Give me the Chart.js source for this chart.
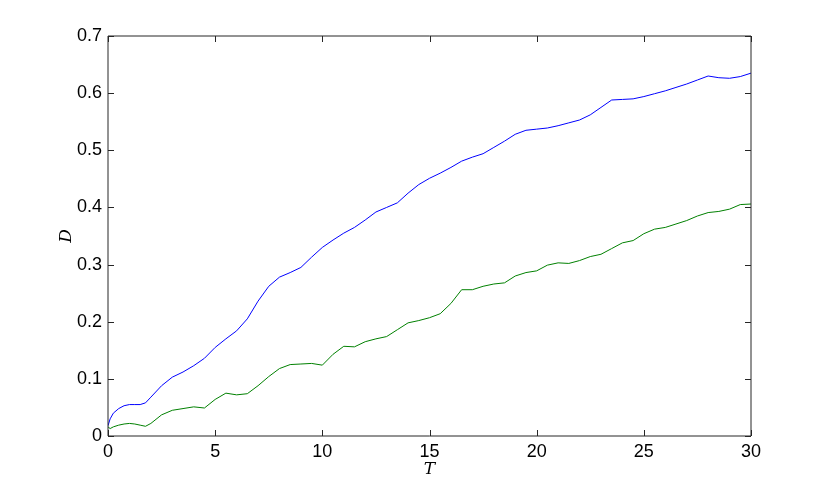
<!DOCTYPE html>
<html>
<head>
<meta charset="utf-8">
<script src="https://cdn.jsdelivr.net/npm/chart.js@4/dist/chart.umd.min.js"></script>
<style>
  html, body { margin: 0; padding: 0; background: #fff; }
  #wrap { width: 830px; height: 490px; }
</style>
</head>
<body>
<div id="wrap"><canvas id="plot"></canvas></div>
<script>
// time samples (T)
var T = [0, 0.1, 0.25, 0.5, 0.75, 1, 1.25, 1.5, 1.75, 2, 2.5, 3, 3.5, 4, 4.5, 5, 5.5, 6, 6.5, 7, 7.5,
    8, 8.5, 9, 9.5, 10, 10.5, 11, 11.5, 12, 12.5, 13, 13.5, 14, 14.5, 15, 15.5, 16, 16.5, 17, 17.5,
    18, 18.5, 19, 19.5, 20, 20.5, 21, 21.5, 22, 22.5, 23, 23.5, 24, 24.5, 25, 25.5, 26, 26.5, 27, 27.5,
    28, 28.5, 29, 29.5, 30];

var blueD = [0.018, 0.030, 0.040, 0.048, 0.053, 0.055, 0.055, 0.055, 0.058, 0.068, 0.088, 0.103, 0.112, 0.123, 0.136, 0.155, 0.170, 0.184, 0.205, 0.236, 0.262,
    0.278, 0.286, 0.295, 0.313, 0.330, 0.343, 0.355, 0.365, 0.378, 0.392, 0.400, 0.408, 0.425, 0.440, 0.451, 0.460, 0.470, 0.481, 0.488, 0.494,
    0.505, 0.516, 0.528, 0.535, 0.537, 0.539, 0.543, 0.548, 0.553, 0.562, 0.575, 0.588, 0.589, 0.590, 0.594, 0.599, 0.604, 0.610, 0.616, 0.623,
    0.630, 0.627, 0.626, 0.629, 0.635];

var greenD = [0.016, 0.013, 0.016, 0.019, 0.021, 0.022, 0.021, 0.019, 0.017, 0.022, 0.037, 0.045, 0.048, 0.051, 0.049, 0.064, 0.075, 0.072, 0.074, 0.088, 0.104,
    0.118, 0.125, 0.126, 0.127, 0.124, 0.143, 0.157, 0.156, 0.165, 0.170, 0.174, 0.186, 0.198, 0.202, 0.207, 0.214, 0.232, 0.256, 0.256, 0.262,
    0.266, 0.268, 0.280, 0.286, 0.289, 0.299, 0.303, 0.302, 0.307, 0.314, 0.318, 0.328, 0.338, 0.342, 0.354, 0.362, 0.365, 0.371, 0.377, 0.385,
    0.391, 0.393, 0.397, 0.405, 0.406];

var xTicks = [0, 5, 10, 15, 20, 25, 30];
var yTicks = [0, 0.1, 0.2, 0.3, 0.4, 0.5, 0.6, 0.7];

function pts(ys) {
    return T.map(function (t, i) { return { x: t, y: ys[i] }; });
}

// inward ticks on all four sides + box, matlab style
var boxTicks = {
    id: 'boxTicks',
    afterDraw: function (chart) {
        var ctx = chart.ctx, a = chart.chartArea;
        var sx = chart.scales.x, sy = chart.scales.y;
        var len = 6;
        ctx.save();
        ctx.strokeStyle = '#262626';
        ctx.lineWidth = 1;
        ctx.beginPath();
        ctx.rect(a.left, a.top, a.right - a.left, a.bottom - a.top);
        xTicks.forEach(function (v) {
            var px = Math.round(sx.getPixelForValue(v)) + 0.5;
            ctx.moveTo(px, a.bottom); ctx.lineTo(px, a.bottom - len);
            ctx.moveTo(px, a.top); ctx.lineTo(px, a.top + len);
        });
        yTicks.forEach(function (v) {
            var py = Math.round(sy.getPixelForValue(v)) + 0.5;
            ctx.moveTo(a.left, py); ctx.lineTo(a.left + len, py);
            ctx.moveTo(a.right, py); ctx.lineTo(a.right - len, py);
        });
        ctx.stroke();
        ctx.restore();
    }
};

var tickFont = { family: '"Liberation Sans", Arial, sans-serif', size: 18 };
var labFont = { family: '"DejaVu Serif", "Liberation Serif", serif', size: 17, style: 'italic' };

new Chart(document.getElementById('plot'), {
    type: 'line',
    data: {
        datasets: [{
            data: pts(blueD),
            borderColor: '#0000ff',
            borderWidth: 1,
            pointRadius: 0,
            tension: 0
        }, {
            data: pts(greenD),
            borderColor: '#008000',
            borderWidth: 1,
            pointRadius: 0,
            tension: 0
        }]
    },
    options: {
        responsive: true,
        maintainAspectRatio: false,
        animation: false,
        layout: { padding: { left: 0, top: 36, right: 79, bottom: 0 } },
        plugins: { legend: { display: false }, tooltip: { enabled: false } },
        scales: {
            x: {
                type: 'linear',
                min: 0, max: 30,
                afterBuildTicks: function (s) { s.ticks = xTicks.map(function (v) { return { value: v }; }); },
                afterFit: function (s) { s.height = 54; },
                grid: { display: false, drawTicks: false },
                border: { display: false },
                ticks: { color: '#000', font: tickFont, padding: 5, maxRotation: 0 },
                title: { display: true, text: 'T', color: '#000', font: labFont, padding: { top: 0, bottom: 10 } }
            },
            y: {
                type: 'linear',
                min: 0, max: 0.7,
                afterBuildTicks: function (s) { s.ticks = yTicks.map(function (v) { return { value: v }; }); },
                afterFit: function (s) { s.width = 108; },
                grid: { display: false, drawTicks: false },
                border: { display: false },
                ticks: { color: '#000', font: tickFont, padding: 6 },
                title: { display: true, text: 'D', color: '#000', font: labFont, padding: { top: 56, bottom: 0 } }
            }
        }
    },
    plugins: [boxTicks]
});
</script>
</body>
</html>
